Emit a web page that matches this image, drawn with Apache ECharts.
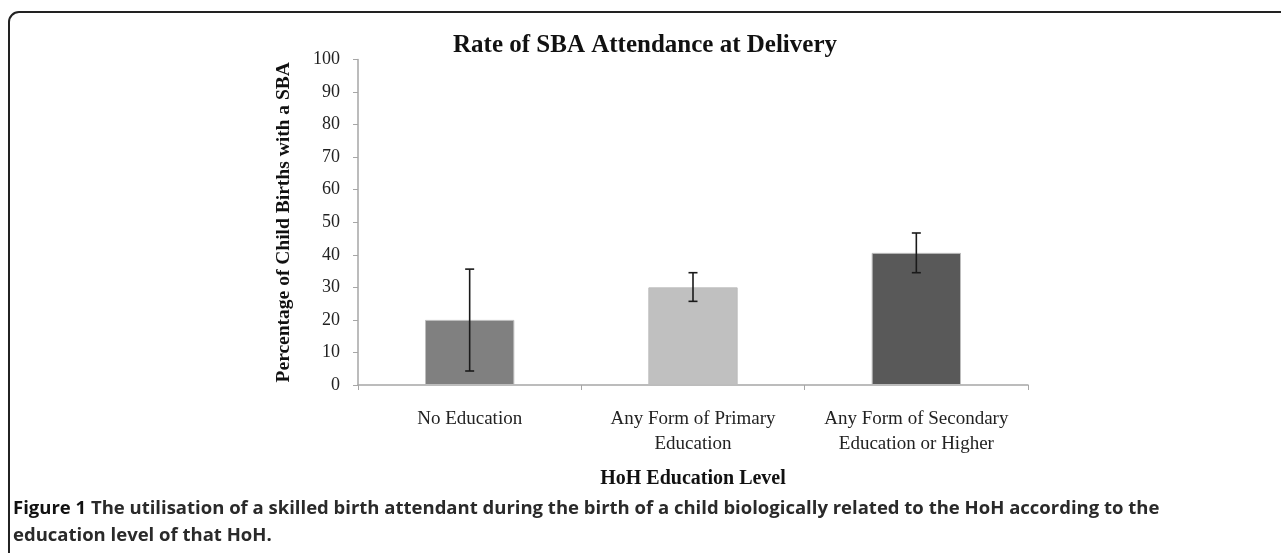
<!DOCTYPE html>
<html>
<head>
<meta charset="utf-8">
<script src="https://cdn.jsdelivr.net/npm/echarts@6/dist/echarts.min.js"></script>
<style>
html,body{margin:0;padding:0;background:#fff;}
#chart{width:1281px;height:553px;}
</style>
</head>
<body>
<div id="chart"></div>
<script>
// ---- data ----
const categories = ["No Education", "Any Form of Primary\nEducation", "Any Form of Secondary\nEducation or Higher"];
const values = [20.0, 30.0, 40.6];
const errLow = [4.3, 25.7, 34.5];
const errHigh = [35.6, 34.5, 46.7];
const barColors = ["#808080", "#c0c0c0", "#595959"];
const yTicks = { min: 0, max: 100, interval: 10 };
const titleText = "Rate of SBA Attendance at Delivery";
const yName = "Percentage of Child Births with a SBA";
const xName = "HoH Education Level";
const captionBold = "Figure 1";
const captionLine1 = " The utilisation of a skilled birth attendant during the birth of a child biologically related to the HoH according to the";
const captionLine2 = "education level of that HoH.";

const serif = "'Liberation Serif', 'DejaVu Serif', serif";
const sans = "'Open Sans', Lato, sans-serif";

const chart = echarts.init(document.getElementById('chart'), null, { renderer: 'canvas' });

const option = {
  animation: false,
  backgroundColor: '#ffffff',
  title: {
    text: titleText,
    left: 640, top: 28, textAlign: 'center',
    textStyle: { fontFamily: serif, fontWeight: 'bold', fontSize: 25, color: '#111' }
  },
  grid: { left: 358, right: 253, top: 59.5, bottom: 168, containLabel: false },
  xAxis: {
    type: 'category',
    data: categories,
    name: xName,
    nameLocation: 'middle',
    nameGap: 84,
    nameTextStyle: { fontFamily: serif, fontWeight: 'bold', fontSize: 20, color: '#111' },
    axisLine: { lineStyle: { color: '#a6a6a6', width: 1.5 } },
    axisTick: { show: true, length: 5, lineStyle: { color: '#a6a6a6' } },
    axisLabel: { fontFamily: serif, fontSize: 19, color: '#222', margin: 22, lineHeight: 25, interval: 0 }
  },
  yAxis: {
    type: 'value',
    min: yTicks.min, max: yTicks.max, interval: yTicks.interval,
    name: yName,
    nameLocation: 'middle',
    nameGap: 64,
    nameTextStyle: { fontFamily: serif, fontWeight: 'bold', fontSize: 19.5, color: '#111' },
    splitLine: { show: false },
    axisLine: { show: true, lineStyle: { color: '#a6a6a6', width: 1.5 } },
    axisTick: { show: true, length: 5, lineStyle: { color: '#a6a6a6' } },
    axisLabel: { fontFamily: serif, fontSize: 18, color: '#222', margin: 18 }
  },
  series: [
    {
      type: 'bar',
      barWidth: '40%',
      data: values.map((v, i) => ({ value: v, itemStyle: { color: barColors[i], borderColor: '#bdbdbd', borderWidth: 1 } })),
      z: 2
    },
    {
      type: 'custom',
      z: 5,
      data: categories.map((c, i) => [i, errLow[i], errHigh[i]]),
      renderItem: function (params, api) {
        const lo = api.coord([api.value(0), api.value(1)]);
        const hi = api.coord([api.value(0), api.value(2)]);
        const x = lo[0];
        const hw = 4.5;
        const style = { stroke: '#1a1a1a', lineWidth: 1.6 };
        return {
          type: 'group',
          children: [
            { type: 'line', shape: { x1: x, y1: hi[1], x2: x, y2: lo[1] }, style: style },
            { type: 'line', shape: { x1: x - hw, y1: hi[1], x2: x + hw, y2: hi[1] }, style: style },
            { type: 'line', shape: { x1: x - hw, y1: lo[1], x2: x + hw, y2: lo[1] }, style: style }
          ]
        };
      }
    }
  ],
  graphic: [
    {
      type: 'rect',
      shape: { x: 9, y: 12, width: 1400, height: 700, r: 10 },
      style: { fill: 'none', stroke: '#222', lineWidth: 2 },
      silent: true
    },
    {
      type: 'text',
      left: 13, top: 499,
      style: {
        text: '{b|' + captionBold + '}{n|' + captionLine1 + '}',
        rich: {
          b: { fontFamily: sans, fontWeight: 'bold', fontSize: 18.5, fill: '#111' },
          n: { fontFamily: sans, fontWeight: 'bold', fontSize: 18.5, fill: '#2a2a2a' }
        }
      }
    },
    {
      type: 'text',
      left: 13, top: 526,
      style: { text: captionLine2, fontFamily: sans, fontWeight: 'bold', fontSize: 18.5, fill: '#2a2a2a' }
    }
  ]
};
chart.setOption(option);
</script>
</body>
</html>
